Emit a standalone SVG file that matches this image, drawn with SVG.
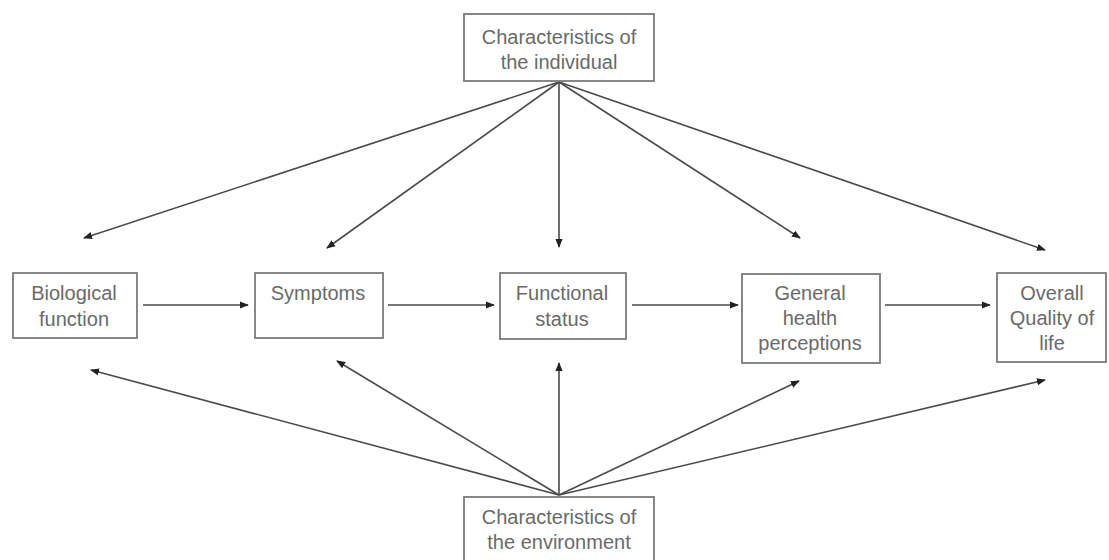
<svg xmlns="http://www.w3.org/2000/svg" width="1109" height="560" viewBox="0 0 1109 560">
  <style>
    .box { fill: #ffffff; stroke: #7a7a7a; stroke-width: 1.8; }
    .lbl { font-family: "Liberation Sans", Arial, sans-serif; font-size: 20px; fill: #6a6a6a; text-anchor: middle; }
    .link { stroke: #4a4a4a; stroke-width: 1.6; fill: none; marker-end: url(#head); }
  </style>
  <defs>
    <marker id="head" viewBox="0 0 10 10" refX="9" refY="5" markerWidth="9" markerHeight="9" markerUnits="userSpaceOnUse" orient="auto">
      <path d="M0,1 L10,5 L0,9 Z" fill="#222"/>
    </marker>
  </defs>
  <rect width="1109" height="560" fill="#ffffff"/>

  <g id="connectors">
    <!-- individual characteristics fan out downwards -->
    <line class="link" x1="559" y1="82" x2="84" y2="238"/>
    <line class="link" x1="559" y1="82" x2="327" y2="248"/>
    <line class="link" x1="559" y1="82" x2="559" y2="247"/>
    <line class="link" x1="559" y1="82" x2="800" y2="238"/>
    <line class="link" x1="559" y1="82" x2="1045" y2="250"/>
    <!-- main causal chain -->
    <line class="link" x1="143" y1="305" x2="248" y2="305"/>
    <line class="link" x1="388" y1="305" x2="494" y2="305"/>
    <line class="link" x1="632" y1="305" x2="738" y2="305"/>
    <line class="link" x1="885" y1="305" x2="990" y2="305"/>
    <!-- environment characteristics fan out upwards -->
    <line class="link" x1="559" y1="495" x2="91" y2="370"/>
    <line class="link" x1="559" y1="495" x2="337" y2="361"/>
    <line class="link" x1="559" y1="495" x2="559" y2="363"/>
    <line class="link" x1="559" y1="495" x2="799" y2="381"/>
    <line class="link" x1="559" y1="495" x2="1045" y2="380"/>
  </g>

  <g id="individual">
    <rect class="box" x="464" y="14" width="190" height="67"/>
    <text class="lbl" x="559" y="44">Characteristics of</text>
    <text class="lbl" x="559" y="69">the individual</text>
  </g>

  <g id="biological">
    <rect class="box" x="13" y="273" width="124" height="65"/>
    <text class="lbl" x="74" y="300">Biological</text>
    <text class="lbl" x="74" y="326">function</text>
  </g>

  <g id="symptoms">
    <rect class="box" x="255" y="273" width="128" height="65"/>
    <text class="lbl" x="318" y="300">Symptoms</text>
  </g>

  <g id="functional">
    <rect class="box" x="500" y="273" width="126" height="66"/>
    <text class="lbl" x="562" y="300">Functional</text>
    <text class="lbl" x="562" y="326">status</text>
  </g>

  <g id="general">
    <rect class="box" x="742" y="274" width="138" height="89"/>
    <text class="lbl" x="810" y="300">General</text>
    <text class="lbl" x="810" y="325">health</text>
    <text class="lbl" x="810" y="350">perceptions</text>
  </g>

  <g id="overall">
    <rect class="box" x="997" y="273" width="109" height="89"/>
    <text class="lbl" x="1052" y="300">Overall</text>
    <text class="lbl" x="1052" y="325">Quality of</text>
    <text class="lbl" x="1052" y="350">life</text>
  </g>

  <g id="environment">
    <rect class="box" x="464" y="497" width="190" height="70"/>
    <text class="lbl" x="559" y="524">Characteristics of</text>
    <text class="lbl" x="559" y="549">the environment</text>
  </g>
</svg>
